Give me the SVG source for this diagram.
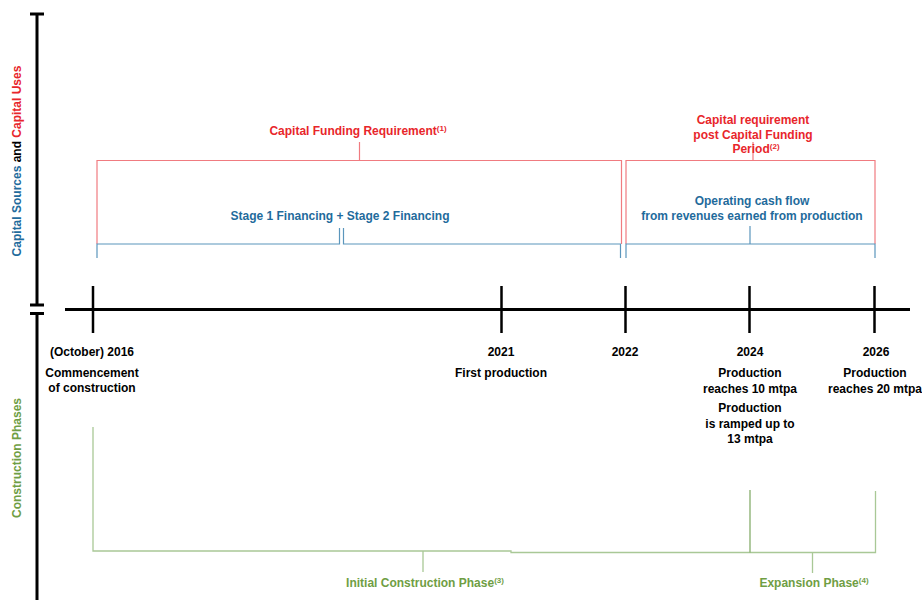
<svg xmlns="http://www.w3.org/2000/svg" width="922" height="600" viewBox="0 0 922 600">
<style>
text{font-family:"Liberation Sans",Arial,sans-serif;font-weight:bold;font-size:12px;text-anchor:middle}
.k{fill:#000}
.r{fill:#e8262b}
.b{fill:#1f6b9c}
.g{fill:#6f9e44}
.sup{font-size:8px}
.ax{stroke:#000;stroke-width:3;fill:none}
.tk{stroke:#000;stroke-width:2.5;fill:none}
.rl{stroke:#f07b80;stroke-width:1.2;fill:none}
.bl{stroke:#5b96bc;stroke-width:1.2;fill:none}
.gl{stroke:#a9c896;stroke-width:1.3;fill:none}
.gd{stroke:#86ad6c;stroke-width:1.3;fill:none}
</style>
<rect width="922" height="600" fill="#fff"/>
<g id="axes">
<line class="ax" x1="37" y1="14" x2="37" y2="305"/>
<line class="ax" x1="30" y1="14" x2="44" y2="14"/>
<line class="ax" x1="30" y1="305" x2="44" y2="305"/>
<line class="ax" x1="30" y1="313.5" x2="44" y2="313.5"/>
<line class="ax" x1="37" y1="313.5" x2="37" y2="600"/>
<text transform="translate(21,161) rotate(-90)"><tspan class="b">Capital Sources</tspan><tspan class="k"> and </tspan><tspan class="r">Capital Uses</tspan></text>
<text class="g" transform="translate(21,458) rotate(-90)">Construction Phases</text>
</g>
<g id="timeline">
<line class="ax" x1="65" y1="309.5" x2="910" y2="309.5"/>
<line class="tk" x1="93" y1="286" x2="93" y2="333"/>
<line class="tk" x1="501.5" y1="286" x2="501.5" y2="333"/>
<line class="tk" x1="625.5" y1="286" x2="625.5" y2="333"/>
<line class="tk" x1="749.5" y1="286" x2="749.5" y2="333"/>
<line class="tk" x1="874.5" y1="286" x2="874.5" y2="333"/>
</g>
<g id="connectors">
<path class="rl" d="M97,244 V160.5 H621.5 V244 M359.5,142 V160.5"/>
<path class="rl" d="M626,244 V160.5 H875 V244 M753,142 V160.5"/>
<path class="bl" d="M97,258 V244 H339.5 V228 M343.5,228 V244 H620.5 V258"/>
<path class="bl" d="M626,258 V244 H875 V258 M750,226 V244"/>
<path class="gl" d="M93,427 V551 H511 V552.5 H875.5 V491 M423,551 V572 M812.5,552.5 V573"/>
<path class="gd" d="M750,490 V552.5"/>
</g>
<g id="n-capital-funding">
<text class="r" x="358" y="135">Capital Funding Requirement<tspan class="sup" dy="-4">(1)</tspan></text>
</g>
<g id="n-capital-post">
<text class="r" x="753" y="124">Capital requirement</text>
<text class="r" x="753" y="138.5">post Capital Funding</text>
<text class="r" x="756" y="153">Period<tspan class="sup" dy="-4">(2)</tspan></text>
</g>
<g id="n-stage">
<text class="b" x="340" y="220">Stage 1 Financing + Stage 2 Financing</text>
</g>
<g id="n-operating">
<text class="b" x="752" y="205">Operating cash flow</text>
<text class="b" x="752" y="220">from revenues earned from production</text>
</g>
<g id="n-2016">
<text class="k" x="92" y="355.5">(October) 2016</text>
<text class="k" x="92" y="377">Commencement</text>
<text class="k" x="92" y="392">of construction</text>
</g>
<g id="n-2021">
<text class="k" x="501" y="355.5">2021</text>
<text class="k" x="501" y="377">First production</text>
</g>
<g id="n-2022">
<text class="k" x="625" y="355.5">2022</text>
</g>
<g id="n-2024">
<text class="k" x="750" y="355.5">2024</text>
<text class="k" x="750" y="377">Production</text>
<text class="k" x="750" y="392.5">reaches 10 mtpa</text>
<text class="k" x="750" y="412">Production</text>
<text class="k" x="750" y="427.5">is ramped up to</text>
<text class="k" x="750" y="443">13 mtpa</text>
</g>
<g id="n-2026">
<text class="k" x="876" y="355.5">2026</text>
<text class="k" x="875" y="377">Production</text>
<text class="k" x="875" y="392.5">reaches 20 mtpa</text>
</g>
<g id="n-initial">
<text class="g" x="425" y="587">Initial Construction Phase<tspan class="sup" dy="-4">(3)</tspan></text>
</g>
<g id="n-expansion">
<text class="g" x="814" y="587">Expansion Phase<tspan class="sup" dy="-4">(4)</tspan></text>
</g>
</svg>
